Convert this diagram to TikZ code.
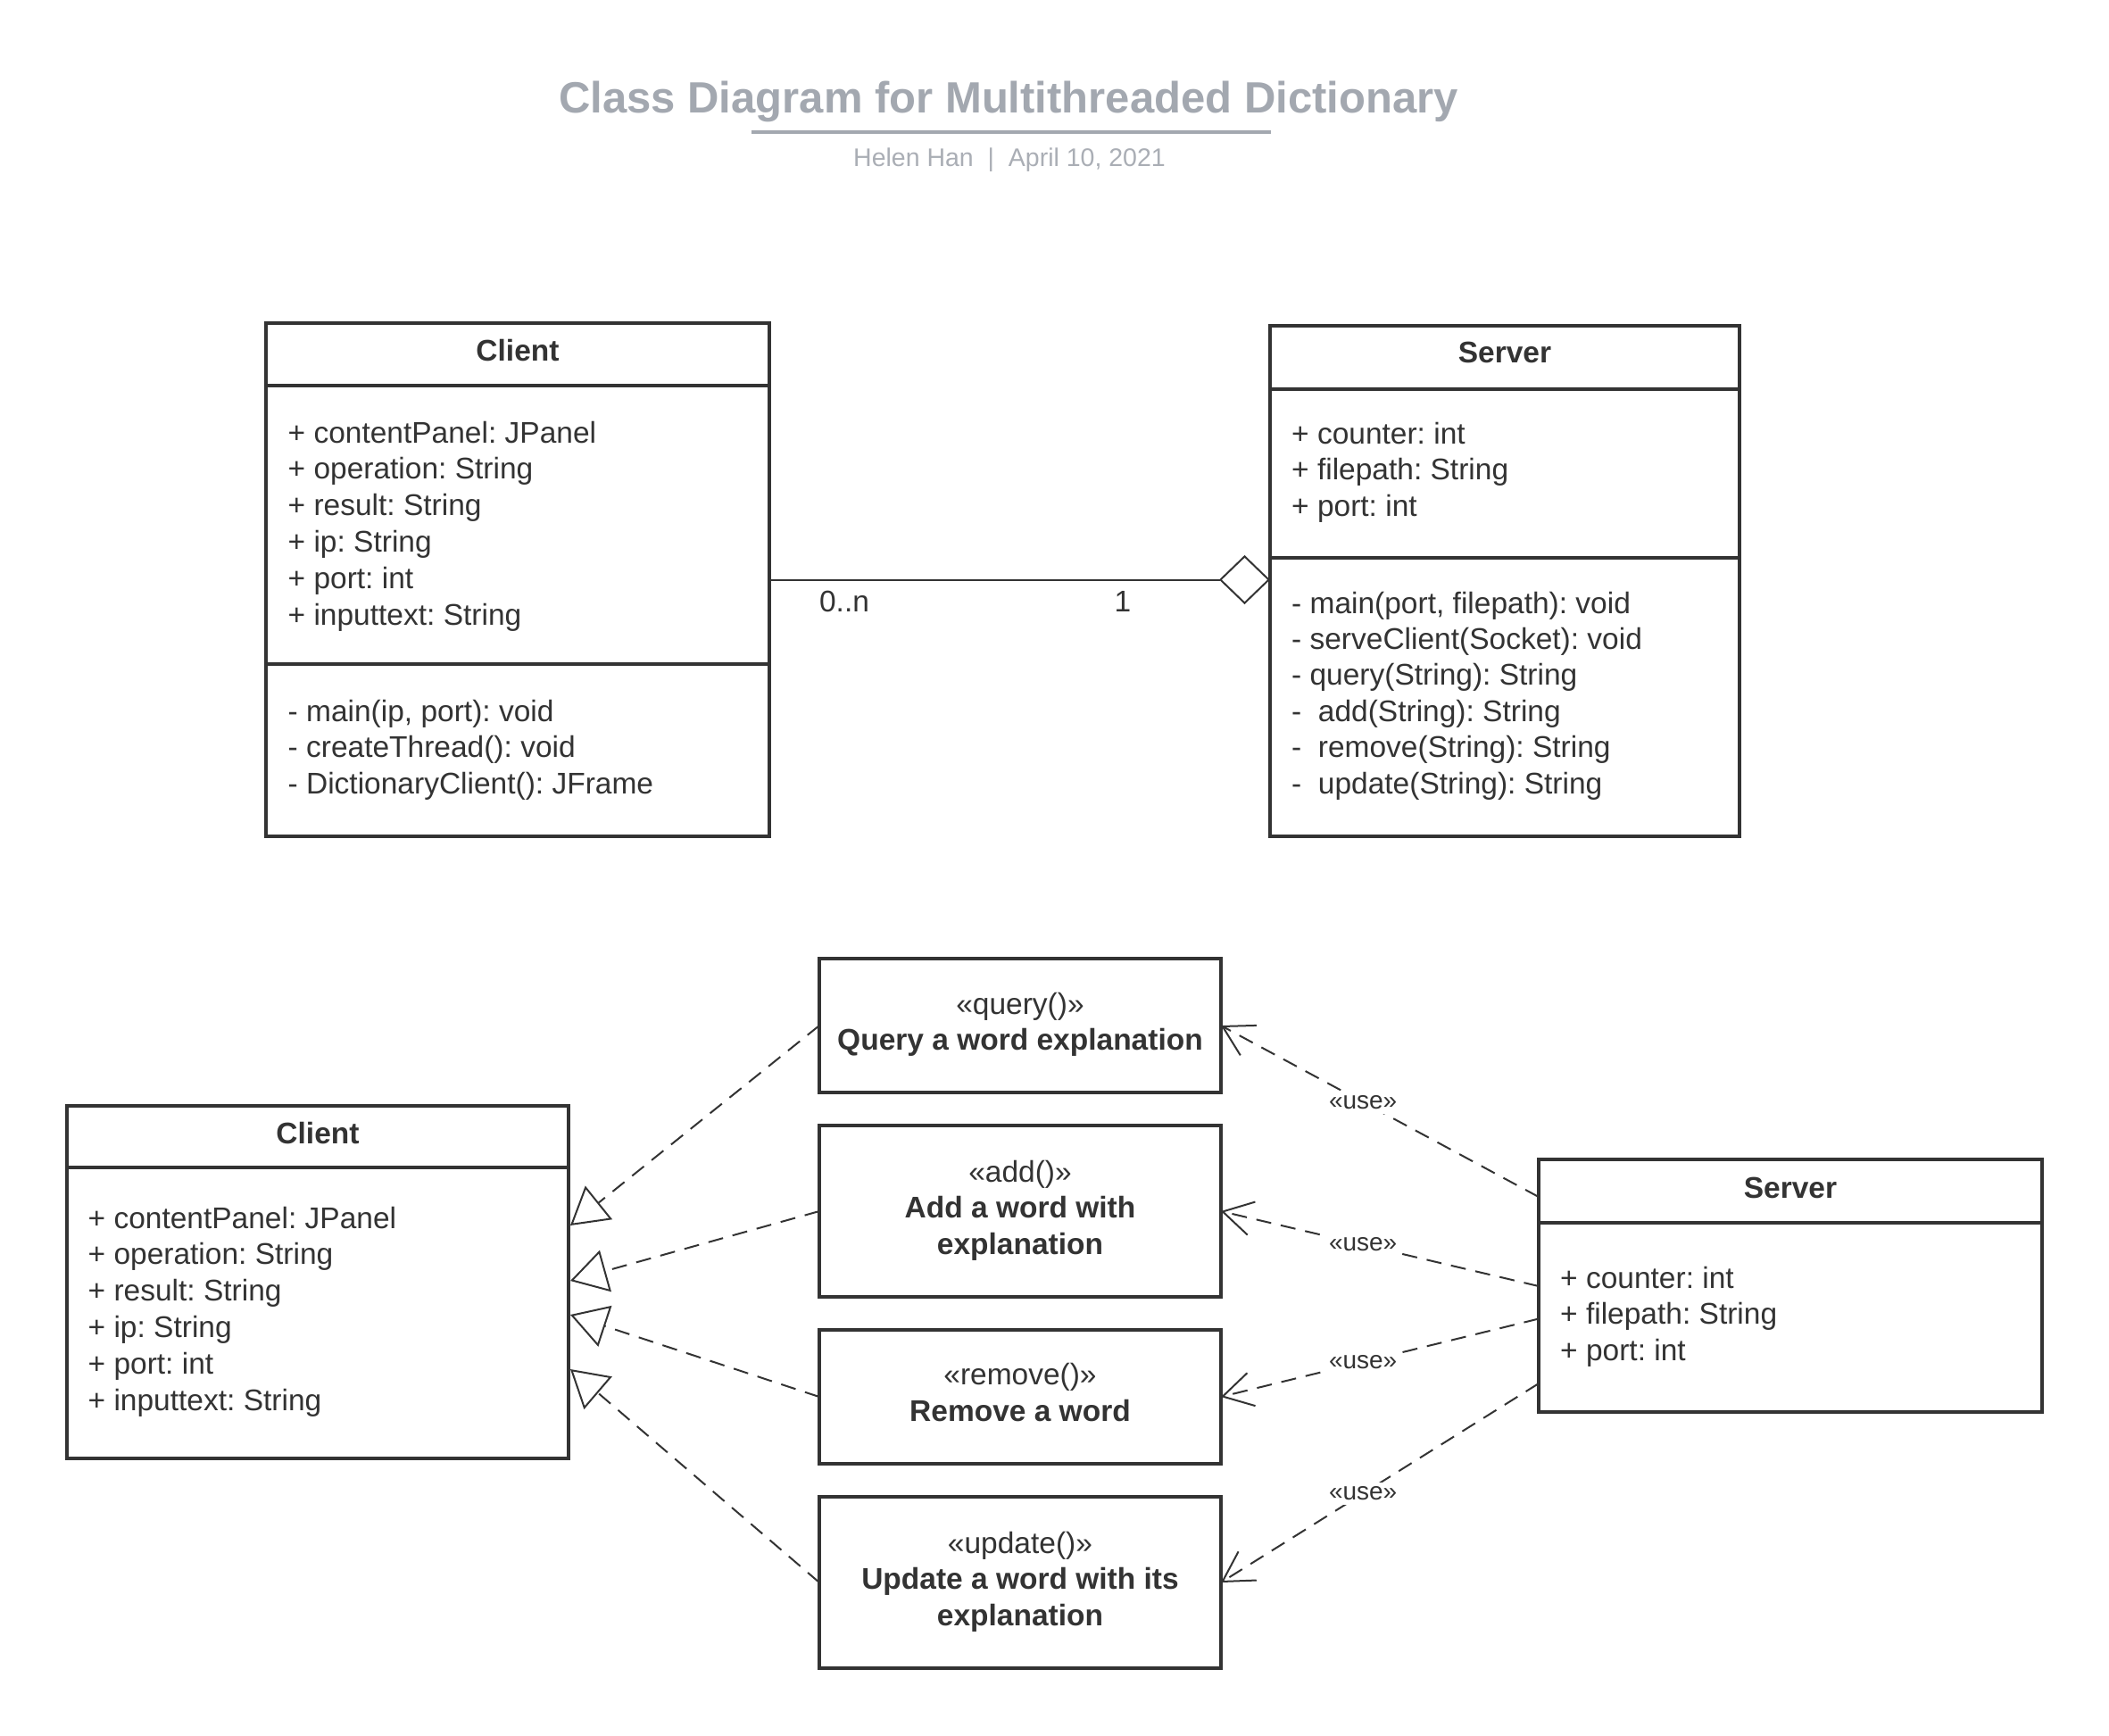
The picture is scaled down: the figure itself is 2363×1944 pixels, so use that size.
\documentclass[tikz,border=0pt]{standalone}
\usepackage{fontspec}
\setmainfont{Liberation Sans}
\usetikzlibrary{arrows.meta}
\definecolor{ink}{HTML}{333333}
\definecolor{titlegray}{HTML}{A3A8B0}
\definecolor{subgray}{HTML}{AAAEB5}
\newcommand{\pxu}{0.3pt}
\frenchspacing
\begin{document}
\frenchspacing
\begin{tikzpicture}[x=0.3pt, y=-0.3pt,
 boxnode/.style={draw=ink, line width=1.05pt, inner sep=0pt, outer sep=0pt, anchor=north west, fill=white},
 divider/.style={draw=ink, line width=1.05pt},
 txt/.style={inner sep=0pt, text=ink, font=\fontsize{10.05}{12}\selectfont\frenchspacing},
 attr/.style={txt, anchor=base west},
 ctr/.style={txt, anchor=base},
 hdr/.style={txt, anchor=base, font=\fontsize{10.05}{12}\selectfont\bfseries\frenchspacing},
 conn/.style={draw=ink, line width=0.6pt},
 dashline/.style={conn, dash pattern=on 5.1pt off 3.3pt},
 inherit/.style={dashline, -{Triangle[open, length=12.3pt, width=14.4pt]}},
 usearrow/.style={dashline, -{Straight Barb[length=9.9pt, width=11.4pt]}},
 uselabel/.style={fill=white, inner sep=1.5pt, text=ink, font=\fontsize{8.4}{10}\selectfont},
 assoc/.style={conn, -{Diamond[open, length=17.1pt, width=16.5pt]}},
]
\fill[white] (0,0) rectangle (2363,1944);
\useasboundingbox (0,0) rectangle (2363,1944);

% Title
\node[anchor=base, inner sep=0pt, text=titlegray, font=\fontsize{14.7}{17}\selectfont\bfseries] (title) at (1130,126) {Class Diagram for Multithreaded Dictionary};
\draw[titlegray, line width=1.35pt] (842,148) -- (1424,148);
\node[anchor=base, inner sep=0pt, text=subgray, font=\fontsize{8.55}{10}\selectfont] (subtitle) at (1131,186) {Helen Han\ \ |\ \ April 10, 2021};

% ---------- Top Client ----------
\node[boxnode, minimum width=564*\pxu, minimum height=575*\pxu] (C1) at (298,362) {};
\draw[divider] (298,432) -- (862,432);
\draw[divider] (298,744) -- (862,744);
\node[hdr] (C1name) at (580,404.5) {Client};
\foreach \t [count=\i from 0] in {+ contentPanel: JPanel, + operation: String, + result: String, + ip: String, + port: int, + inputtext: String}
  \node[attr] (C1a\i) at ({322},{496+40.8*\i}) {\t};
\foreach \t [count=\i from 0] in {{- main(ip, port): void}, - createThread(): void, - DictionaryClient(): JFrame}
  \node[attr] (C1m\i) at ({322},{808+40.6*\i}) {\t};

% ---------- Top Server ----------
\node[boxnode, minimum width=526*\pxu, minimum height=572*\pxu] (S1) at (1423,365) {};
\draw[divider] (1423,436) -- (1949,436);
\draw[divider] (1423,625) -- (1949,625);
\node[hdr] (S1name) at (1686,406.5) {Server};
\foreach \t [count=\i from 0] in {+ counter: int, + filepath: String, + port: int}
  \node[attr] (S1a\i) at ({1446.5},{497+40.5*\i}) {\t};
\foreach \t [count=\i from 0] in {{- main(port, filepath): void}, - serveClient(Socket): void, - query(String): String, -\ \ add(String): String, -\ \ remove(String): String, -\ \ update(String): String}
  \node[attr] (S1m\i) at ({1446.5},{687+40.4*\i}) {\t};

% association
\draw[assoc] (C1.east) -- (C1.east -| S1.west);
\node[ctr] (mult0) at (946,685) {0..n};
\node[ctr] (mult1) at (1258,685) {1};

% ---------- Bottom Client ----------
\node[boxnode, minimum width=562*\pxu, minimum height=395*\pxu] (C2) at (75,1239) {};
\draw[divider] (75,1308) -- (637,1308);
\node[hdr] (C2name) at (356,1281.5) {Client};
\foreach \t [count=\i from 0] in {+ contentPanel: JPanel, + operation: String, + result: String, + ip: String, + port: int, + inputtext: String}
  \node[attr] (C2a\i) at ({98},{1376+40.8*\i}) {\t};

% ---------- Bottom Server ----------
\node[boxnode, minimum width=564*\pxu, minimum height=283*\pxu] (S2) at (1724,1299) {};
\draw[divider] (1724,1370) -- (2288,1370);
\node[hdr] (S2name) at (2006,1342.5) {Server};
\foreach \t [count=\i from 0] in {+ counter: int, + filepath: String, + port: int}
  \node[attr] (S2a\i) at ({1747.5},{1443+40.6*\i}) {\t};

% ---------- Use cases ----------
\node[boxnode, minimum width=450*\pxu, minimum height=150*\pxu] (Q) at (918,1074) {};
\node[boxnode, minimum width=450*\pxu, minimum height=192*\pxu] (A) at (918,1261) {};
\node[boxnode, minimum width=450*\pxu, minimum height=150*\pxu] (R) at (918,1490) {};
\node[boxnode, minimum width=450*\pxu, minimum height=192*\pxu] (U) at (918,1677) {};

\node[ctr] (Qs) at (1143,1136) {«query()»};
\node[hdr] (Qt) at (1143,1176) {Query a word explanation};
\node[ctr] (As) at (1143,1324) {«add()»};
\node[hdr] (At1) at (1143,1364) {Add a word with};
\node[hdr] (At2) at (1143,1405) {explanation};
\node[ctr] (Rs) at (1143,1551) {«remove()»};
\node[hdr] (Rt) at (1143,1592) {Remove a word};
\node[ctr] (Us) at (1143,1740) {«update()»};
\node[hdr] (Ut1) at (1143,1780) {Update a word with its};
\node[hdr] (Ut2) at (1143,1821) {explanation};

% inheritance (realization) arrows to client
\coordinate (tq) at (639,1373);
\coordinate (ta) at (639,1435);
\coordinate (tr) at (639,1473);
\coordinate (tu) at (639,1534);
\draw[inherit] (Q.west) -- (tq);
\draw[inherit] (A.west) -- (ta);
\draw[inherit] (R.west) -- (tr);
\draw[inherit] (U.west) -- (tu);

% use arrows from server
\coordinate (sq) at (1724,1341);
\coordinate (sa) at (1724,1441);
\coordinate (sr) at (1724,1477.5);
\coordinate (su) at (1724,1550);
\draw[usearrow] (sq) -- node[uselabel, pos=0.553] (uq) {«use»} (Q.east);
\draw[usearrow] (sa) -- node[uselabel, pos=0.553] (ua) {«use»} (A.east);
\draw[usearrow] (sr) -- node[uselabel, pos=0.553] (ur) {«use»} (R.east);
\draw[usearrow] (su) -- node[uselabel, pos=0.553] (uu) {«use»} (U.east);
\end{tikzpicture}
\end{document}
